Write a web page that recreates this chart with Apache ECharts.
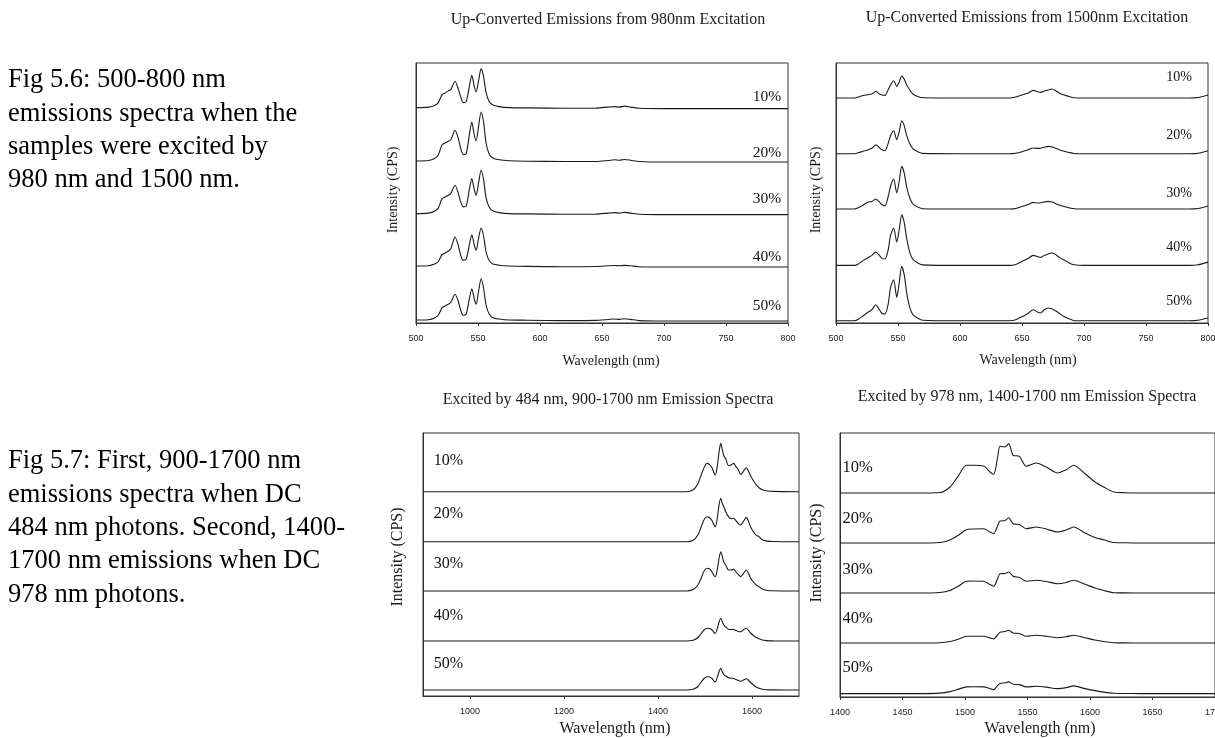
<!DOCTYPE html>
<html>
<head>
<meta charset="utf-8">
<script src="https://cdn.jsdelivr.net/npm/echarts@6/dist/echarts.min.js"></script>
<style>
html, body { margin: 0; padding: 0; background: #fff; }
#chart { width: 1215px; height: 738px; }
</style>
</head>
<body>
<div id="chart"></div>
<script>
var CONCENTRATIONS = ['10%', '20%', '30%', '40%', '50%'];

// Up-converted emission, 980 nm excitation (wavelength nm / intensity a.u.)
var UC980_WL = [500, 510, 515, 518, 521, 523.5, 526, 528, 531.5, 534, 536, 538, 540.5, 543, 545, 547, 548.5, 550.5, 552.5, 554.5,
  556.5, 559, 562, 567, 575, 590, 620, 645, 655, 660, 664, 668, 673, 680, 700, 800];
var UC980_10 = [1, 1.5, 3, 6, 14, 15.5, 17.7, 19, 27.3, 20, 12, 6, 7, 22, 33.3, 22, 16.7, 28, 40, 32,
  16, 7, 3.5, 2, 1, 0.7, 0.4, 0.5, 1.5, 2, 1.5, 2.5, 1.5, 0.3, 0, 0];
var UC980_20 = [1, 1.5, 3.5, 7, 17.3, 19, 20.7, 22, 31.7, 24, 14, 7.3, 8.5, 27, 40, 27, 21, 36, 50, 40,
  19, 8, 4, 2.2, 1.2, 0.8, 0.5, 0.5, 1.5, 2.2, 1.8, 2.5, 1.8, 0.5, 0, 0];
var UC980_30 = [1, 1.5, 3.3, 6.5, 16, 17.5, 19.3, 21, 29.3, 22, 13, 7.7, 8.5, 25, 36, 25, 19.3, 32, 44.3, 35,
  17, 7.5, 3.5, 2, 1, 0.7, 0.4, 0.5, 1.5, 2, 1.5, 2.2, 1.5, 0.4, 0, 0];
var UC980_40 = [1, 1.3, 3, 5.5, 12.3, 14, 15.7, 18, 30, 22, 12, 6.7, 8, 22, 32.3, 22, 16.7, 29, 39, 31,
  15, 6.5, 3, 1.8, 1, 0.6, 0.3, 0.5, 1.2, 1.5, 1.2, 1.6, 1.2, 0.3, 0, 0];
var UC980_50 = [1, 1.3, 3, 6, 13.3, 15, 16.7, 18.5, 26.7, 20, 11, 5.7, 7, 22, 32.3, 22, 16.7, 30, 42.3, 33,
  16, 7, 3.3, 2, 1, 0.8, 0.4, 0.6, 1.5, 2, 1.6, 2.3, 1.6, 0.4, 0, 0];
var UC980_OFFSET = [214.4, 161, 108.4, 56, 2];

// Up-converted emission, 1500 nm excitation
var UC1500_WL = [500, 515, 518, 522, 526, 529, 532, 535, 537, 539.5, 542, 544, 546.5, 549, 551, 553, 555, 557, 559.5, 562,
  566, 570, 600, 640, 645, 650, 655, 659, 662, 665, 668, 671, 674, 677, 680, 684, 688, 692, 700, 785, 792, 800];
var UC1500_10 = [0, 0, 1, 2.5, 3.3, 4, 6.6, 4, 3, 2.6, 8, 13, 17.3, 11.6, 16, 22, 19, 13, 8, 4,
  1.5, 0.2, 0, 0, 1, 3, 5, 7.6, 6.5, 5.6, 7, 8, 9, 7.5, 5, 3, 1.5, 0.2, 0, 0, 0.5, 3];
var UC1500_20 = [0, 0, 1, 2.5, 4, 5.5, 9, 6, 4, 3, 10, 18, 23, 14, 22, 33, 28, 18, 10, 5,
  2, 0.3, 0, 0, 0.5, 2, 4, 5.7, 5.3, 5.5, 6.5, 7.3, 6.8, 5.5, 4, 2.5, 1.2, 0.2, 0, 0, 0.5, 3];
var UC1500_30 = [0, 0, 1.2, 4, 7, 7.5, 10, 7, 4.5, 3, 12, 23, 30, 16, 28, 42.6, 36, 22, 11, 5,
  2, 0.3, 0, 0, 0.5, 2.5, 4.5, 6.6, 6, 6.2, 7, 7.6, 7, 5.5, 4, 2.5, 1.2, 0.2, 0, 0, 0.5, 3];
var UC1500_40 = [0, 0, 1.5, 5, 8, 10, 13.4, 10, 7, 6.4, 15, 30, 37.4, 23.4, 36, 50.7, 43, 27, 13, 6,
  2.5, 0.5, 0, 0, 1, 4, 7, 10, 9, 8, 10, 11.5, 12.4, 11, 8, 5.5, 2.5, 0.7, 0, 0, 0.6, 3.3];
var UC1500_50 = [0, 0, 1.5, 5, 8.7, 11, 16, 11, 7.5, 6.7, 16, 33, 41, 23.3, 38, 54.3, 46, 28, 13, 6,
  2.5, 0.5, 0, 0, 1, 4, 7.5, 11, 9, 7.7, 11, 12.7, 12, 10, 7.5, 4, 2, 0, 0, 0, 0.5, 2.7];
var UC1500_OFFSET = [225, 169.3, 114, 57.6, 2.3];

// Down-converted emission, 484 nm excitation, 900-1700 nm
var DC484_WL = [900, 1460, 1475, 1485, 1492, 1498, 1504, 1510, 1515, 1519, 1522, 1526, 1530, 1533.5, 1537, 1540, 1544, 1550, 1556, 1561,
  1566, 1571, 1576, 1580, 1584, 1588, 1592, 1597, 1603, 1609, 1615, 1622, 1630, 1645, 1700];
var DC484_10 = [0, 0, 2, 8, 17, 24, 28.3, 27, 24, 19, 16.7, 25, 40, 48.3, 42, 36, 33, 26, 27, 28.3,
  25, 22, 17, 19, 22, 24, 21, 16, 11, 7, 4, 2, 1, 0.3, 0];
var DC484_20 = [0, 0, 1.5, 7, 15, 22, 25, 24, 21, 17, 15, 23, 37, 43.4, 38, 35, 30, 25, 23, 23.4,
  21, 18, 16.7, 19, 22, 24.3, 21, 15, 10, 6.5, 5, 2, 0.8, 0.2, 0];
var DC484_30 = [0, 0, 1.5, 6, 13, 20, 22.7, 22, 19, 15.5, 14.3, 21, 33, 39.3, 34, 29, 26, 21, 21, 21.7,
  19, 16.5, 14.3, 16.5, 19, 21, 18, 13, 9, 6, 4.3, 2, 0.8, 0.2, 0];
var DC484_40 = [0, 0, 0.8, 3.5, 7.5, 11, 12.7, 12.5, 11, 8.5, 7.7, 12, 19, 22.7, 19, 16, 14, 11.7, 11.5, 11.5,
  10.5, 9.5, 9.3, 10.5, 12, 12.7, 11, 8, 5.5, 3.5, 2.3, 1, 0.4, 0.1, 0];
var DC484_50 = [0, 0, 0.8, 3.5, 8, 11.5, 13.3, 13, 11.5, 9, 8.3, 12.5, 18.5, 21.7, 18, 15.5, 14, 12.3, 11.8, 11.5,
  10.5, 9.5, 8.7, 9.5, 10.5, 11.3, 10, 7.5, 5, 3, 1.7, 0.8, 0.3, 0.1, 0];
var DC484_OFFSET = [204.3, 154.3, 105, 55, 6];
var DC484_TICKS = [1000, 1200, 1400, 1600];

// Down-converted emission, 978 nm excitation, 1400-1700 nm
var DC978_WL = [1400, 1460, 1480, 1488, 1495, 1501, 1507, 1515, 1520, 1523, 1526, 1528, 1532, 1535, 1538.5, 1543.5, 1549, 1557, 1565, 1574,
  1581, 1587, 1596, 1604, 1611, 1619, 1628, 1640, 1700];
var DC978_10 = [0, 0, 0.5, 6, 17.7, 27.7, 27.7, 27, 21, 18.7, 35, 46.7, 46, 49.3, 37.7, 36.7, 26.7, 30, 26, 20,
  23.3, 27.7, 19.3, 11, 6, 1, 0.3, 0, 0];
var DC978_20 = [0, 0, 0.5, 3, 8, 13.3, 14, 14.3, 11, 9.3, 17, 22, 22.5, 25.3, 19.3, 18.5, 14.3, 16, 14, 11,
  13, 16, 10, 5.5, 3.2, 0.5, 0.2, 0, 0];
var DC978_30 = [0, 0, 0.5, 2.5, 7, 11.7, 12, 11.7, 8.5, 6.7, 14, 19.3, 19.5, 21, 16.7, 15.5, 11.7, 12.7, 11.5, 9.3,
  10.5, 12.7, 8.7, 5, 2.5, 0.3, 0.1, 0, 0];
var DC978_40 = [0, 0, 0.3, 1.5, 4, 6.7, 6.8, 6.7, 5, 4, 8, 10.7, 11.5, 12.7, 10, 9.5, 6.7, 7.7, 6.8, 5.3,
  6.3, 7.7, 5.3, 3, 1.5, 0.3, 0.1, 0, 0];
var DC978_50 = [0, 0, 0.5, 2, 4.5, 6.7, 6.8, 6.7, 5, 4, 8, 10, 10.8, 11.7, 9.3, 9, 6.7, 7.3, 6.5, 5,
  6, 7.7, 5, 3, 1.5, 0.3, 0.1, 0, 0];
var DC978_OFFSET = [204, 154, 104, 54, 3.4];

var SERIF = '"Liberation Serif", "Times New Roman", serif';
var SANS = '"Liberation Sans", Arial, sans-serif';
var INK = '#1a1a1a';

var panels = [
  {
    title: 'Up-Converted Emissions from 980nm Excitation',
    wl: UC980_WL, spectra: [UC980_10, UC980_20, UC980_30, UC980_40, UC980_50], offsets: UC980_OFFSET,
    grid: {left: 416, top: 63, width: 372, height: 260},
    xMin: 500, xMax: 800, xInterval: 50, yMax: 260,
    labelX: 783, labelDy: [11.4, 9, 15.3, 9.7, 14.7], labelLeft: false, labelSize: 15.5,
    titleAt: [608, 20], nameAt: [611, 361], yNameAt: [393, 190], textSize: 16, nameSize: 14
  },
  {
    title: 'Up-Converted Emissions from 1500nm Excitation',
    wl: UC1500_WL, spectra: [UC1500_10, UC1500_20, UC1500_30, UC1500_40, UC1500_50], offsets: UC1500_OFFSET,
    grid: {left: 836, top: 63, width: 372, height: 260},
    xMin: 500, xMax: 800, xInterval: 50, yMax: 260,
    labelX: 776.6, labelDy: [20.3, 18, 15.7, 17.7, 19.3], labelLeft: false, labelSize: 14,
    titleAt: [1027, 18], nameAt: [1028, 360], yNameAt: [816, 190], textSize: 16, nameSize: 14
  },
  {
    title: 'Excited by 484 nm, 900-1700 nm Emission Spectra',
    wl: DC484_WL, spectra: [DC484_10, DC484_20, DC484_30, DC484_40, DC484_50], offsets: DC484_OFFSET,
    grid: {left: 423, top: 433, width: 376, height: 263},
    xMin: 900, xMax: 1700, xTicks: DC484_TICKS, yMax: 263,
    labelX: 922.8, labelDy: [30.7, 27.7, 27.7, 25.7, 26], labelLeft: true, labelSize: 16,
    titleAt: [608, 400], nameAt: [615, 729], yNameAt: [398, 557], textSize: 16, nameSize: 16
  },
  {
    title: 'Excited by 978 nm, 1400-1700 nm Emission Spectra',
    wl: DC978_WL, spectra: [DC978_10, DC978_20, DC978_30, DC978_40, DC978_50], offsets: DC978_OFFSET,
    grid: {left: 840, top: 433, width: 375, height: 264},
    xMin: 1400, xMax: 1700, xInterval: 50, yMax: 264,
    labelX: 1402, labelDy: [25.4, 24.4, 23.4, 24.4, 26], labelLeft: true, labelSize: 16.5,
    titleAt: [1027, 397], nameAt: [1040, 729], yNameAt: [817, 553], textSize: 16, nameSize: 16
  }
];

var grids = [], xAxes = [], yAxes = [], series = [], graphics = [];

function textItem(str, at, size, rotate) {
  return {
    type: 'text', x: at[0], y: at[1], rotation: rotate ? Math.PI / 2 : 0, silent: true,
    style: {
      text: str, fill: INK, font: size + 'px ' + SERIF,
      textAlign: 'center', textVerticalAlign: 'middle', align: 'center', verticalAlign: 'middle'
    }
  };
}

panels.forEach(function (p, gi) {
  grids.push({
    left: p.grid.left, top: p.grid.top, width: p.grid.width, height: p.grid.height,
    outerBoundsMode: 'none', containLabel: false,
    show: true, borderColor: '#333', borderWidth: 1, backgroundColor: 'transparent'
  });

  var xa = {
    type: 'value', gridIndex: gi, min: p.xMin, max: p.xMax,
    axisLine: {show: true, onZero: false, lineStyle: {color: '#333', width: 1}},
    axisTick: {show: true, length: 3, lineStyle: {color: '#333'}},
    axisLabel: {
      show: true, fontSize: 9, fontFamily: SANS, color: '#222', margin: 11, hideOverlap: false,
      formatter: function (v) { return String(v); }
    },
    splitLine: {show: false}
  };
  if (p.xTicks) {
    xa.axisLabel.customValues = p.xTicks;
    xa.axisTick.customValues = p.xTicks;
  } else {
    xa.interval = p.xInterval;
  }
  xAxes.push(xa);

  yAxes.push({
    type: 'value', gridIndex: gi, min: 0, max: p.yMax,
    axisLine: {show: true, lineStyle: {color: '#333'}},
    axisTick: {show: false}, axisLabel: {show: false}, splitLine: {show: false}
  });

  // one trace per dopant concentration, lifted by its stacking offset
  p.spectra.forEach(function (vals, k) {
    series.push({
      type: 'line', name: CONCENTRATIONS[k], xAxisIndex: gi, yAxisIndex: gi,
      showSymbol: false, symbol: 'none', silent: true, smooth: 0.25,
      lineStyle: {color: INK, width: 1.1},
      data: p.wl.map(function (w, i) { return [w, p.offsets[k] + vals[i]]; })
    });
  });

  series.push({
    type: 'scatter', xAxisIndex: gi, yAxisIndex: gi, symbolSize: 0, silent: true,
    itemStyle: {color: '#111', opacity: 1},
    label: {
      show: true, formatter: '{b}', color: '#111', opacity: 1, textBorderWidth: 0,
      fontFamily: SERIF, fontSize: p.labelSize,
      position: p.labelLeft ? 'right' : 'inside', distance: 0
    },
    data: CONCENTRATIONS.map(function (c, k) {
      return {name: c, value: [p.labelX, p.offsets[k] + p.labelDy[k]]};
    })
  });

  graphics.push(textItem(p.title, p.titleAt, p.textSize));
  graphics.push(textItem('Wavelength (nm)', p.nameAt, p.nameSize));
  graphics.push(textItem('Intensity (CPS)', p.yNameAt, p.nameSize, true));
});

// figure captions at the left of the page
graphics.push({
  type: 'text', x: 8, y: 63.5, silent: true,
  style: {
    text: 'Fig 5.6: 500-800 nm\nemissions spectra when the\nsamples were excited by\n980 nm and 1500 nm.',
    fill: '#000', font: '26.5px ' + SERIF, lineHeight: 33.4, textVerticalAlign: 'top', verticalAlign: 'top'
  }
});
graphics.push({
  type: 'text', x: 8, y: 444.5, silent: true,
  style: {
    text: 'Fig 5.7: First, 900-1700 nm\nemissions spectra when DC\n484 nm photons. Second, 1400-\n1700 nm emissions when DC\n978 nm photons.',
    fill: '#000', font: '26.5px ' + SERIF, lineHeight: 33.4, textVerticalAlign: 'top', verticalAlign: 'top'
  }
});

var chart = echarts.init(document.getElementById('chart'), null, {renderer: 'canvas'});
chart.setOption({
  animation: false,
  backgroundColor: '#fff',
  grid: grids,
  xAxis: xAxes,
  yAxis: yAxes,
  series: series,
  graphic: graphics
});
</script>
</body>
</html>
